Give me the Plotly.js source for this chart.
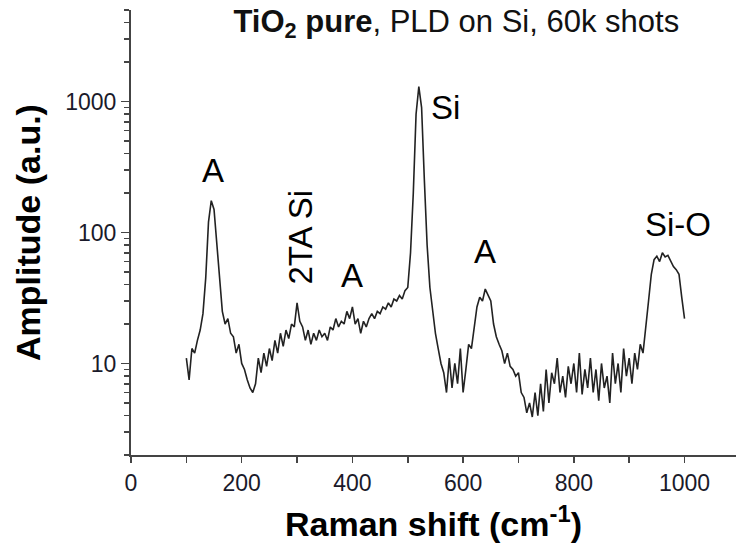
<!DOCTYPE html>
<html>
<head>
<meta charset="utf-8">
<script src="https://cdn.plot.ly/plotly-3.0.1.min.js"></script>
<style>html,body{margin:0;padding:0;background:#fff;}#chart{width:736px;height:546px;}</style>
</head>
<body>
<div id="chart"></div>
<script>
// Raman shift (cm^-1)
const ramanShift = [
 100,105,110,115,120,125,130,135,140,145,150,155,160,165,170,175,180,185,190,195,
 200,205,210,215,220,225,230,235,240,245,250,255,260,265,270,275,280,285,290,295,
 300,305,310,315,320,325,330,335,340,345,350,355,360,365,370,375,380,385,390,395,
 400,405,410,415,420,425,430,435,440,445,450,455,460,465,470,475,480,485,490,495,
 500,505,510,515,520,525,530,535,540,545,550,555,560,565,570,575,580,585,590,595,
 600,605,610,615,620,625,630,635,640,645,650,655,660,665,670,675,680,685,690,695,
 700,705,710,715,720,725,730,735,740,745,750,755,760,765,770,775,780,785,790,795,
 800,805,810,815,820,825,830,835,840,845,850,855,860,865,870,875,880,885,890,895,
 900,905,910,915,920,925,930,935,940,945,950,955,960,965,970,975,980,985,990,995,
 1000
];
// Amplitude (a.u.)
const amplitude = [
 11,7.5,13,12,15,18,24,45,120,175,150,80,40,25,20,22,17,16,12,14,
 10,9,7.5,6.5,6,7,11,8.5,12,9.5,13,10.5,15,12,17,13.5,18,15.5,20,19,
 29,21,19,15,18,14,17,15,18,16,17,15,19,18,22,19,21,20,25,22,
 27,20,22,17,21,19,22,24,22,25,24,27,26,29,27,31,30,33,31,36,
 38,70,200,800,1300,900,250,80,38,24,17,13,10,8.5,6,11,6.5,10,7,13,
 6,9,14,13,18,27,32,30,37,33,30,20,16,14,12.5,10,12,9.5,9,8,
 8.5,6,5.5,4.2,5,3.9,6,4,7,4.3,9,5,8.5,7,11,6,8,5.5,9.5,7,
 10,6,12,5.8,9,6.5,11,6,9,5.2,10,6.5,8,5,12,7,10,6,13,8,
 11,7,12,9,14,12,20,30,48,62,66,60,70,65,67,60,55,52,48,32,
 22
];
// Peak labels
const labelText = ["A", "2TA Si", "A", "Si", "A", "Si-O"];
const labelX = [149, 306, 400, 568, 640, 989];
const labelY = [300, 92, 47, 895, 71, 116];
const labelAngle = [0, -90, 0, 0, 0, 0];

const FONT = "'Liberation Sans', Arial, Helvetica, sans-serif";

const trace = {
  x: ramanShift,
  y: amplitude,
  type: 'scatter',
  mode: 'lines',
  line: {color: '#222', width: 1.6},
  hoverinfo: 'skip',
  showlegend: false
};

const minorY = [2,3,4,5,6,7,8,9,20,30,40,50,60,70,80,90,200,300,400,500,600,700,800,900,2000,3000,4000,5000];

const annotations = labelText.map((t, i) => ({
  x: labelX[i],
  y: Math.log10(labelY[i]),
  xref: 'x', yref: 'y',
  text: t,
  showarrow: false,
  textangle: labelAngle[i],
  xanchor: 'center', yanchor: 'middle',
  font: {family: FONT, size: 33, color: '#000'}
}));

const layout = {
  width: 736, height: 546,
  margin: {l: 131, r: 0, t: 10, b: 91, pad: 0},
  paper_bgcolor: '#fff', plot_bgcolor: '#fff',
  font: {family: FONT, color: '#1a1a1a'},
  title: {
    text: '<b>TiO<sub>2</sub> pure</b>, PLD on Si, 60k shots',
    font: {family: FONT, size: 31, color: '#111'},
    xref: 'container', yref: 'container',
    x: 0.620, xanchor: 'center',
    y: 0.982, yanchor: 'top'
  },
  xaxis: {
    range: [0, 1093],
    showgrid: false, zeroline: false,
    showline: true, linecolor: '#444', linewidth: 2,
    ticks: 'outside', ticklen: 6, tickwidth: 1.5, tickcolor: '#444',
    tickmode: 'linear', tick0: 0, dtick: 200,
    minor: {ticks: 'outside', ticklen: 6, tickwidth: 1.5, tickcolor: '#444', dtick: 100, tick0: 0, showgrid: false},
    tickfont: {family: FONT, size: 23, color: '#1a1a2a'},
    title: {text: '<b>Raman shift (cm<sup>-1</sup>)</b>', font: {family: FONT, size: 34, color: '#000'}, standoff: 18},
    automargin: false
  },
  yaxis: {
    type: 'log',
    range: [Math.log10(2), Math.log10(5000)],
    showgrid: false, zeroline: false,
    showline: true, linecolor: '#444', linewidth: 2,
    ticks: 'outside', ticklen: 8, tickwidth: 1.5, tickcolor: '#444',
    tickmode: 'array', tickvals: [10, 100, 1000], ticktext: ['10', '100', '1000'],
    minor: {ticks: 'outside', ticklen: 5, tickwidth: 1.5, tickcolor: '#444', tickmode: 'array', tickvals: minorY, showgrid: false},
    tickfont: {family: FONT, size: 23, color: '#1a1a2a'},
    title: {text: '<b>Amplitude (a.u.)</b>', font: {family: FONT, size: 34, color: '#000'}, standoff: 14},
    automargin: false
  },
  annotations: annotations
};

Plotly.newPlot('chart', [trace], layout, {staticPlot: true, displayModeBar: false});
</script>
</body>
</html>
